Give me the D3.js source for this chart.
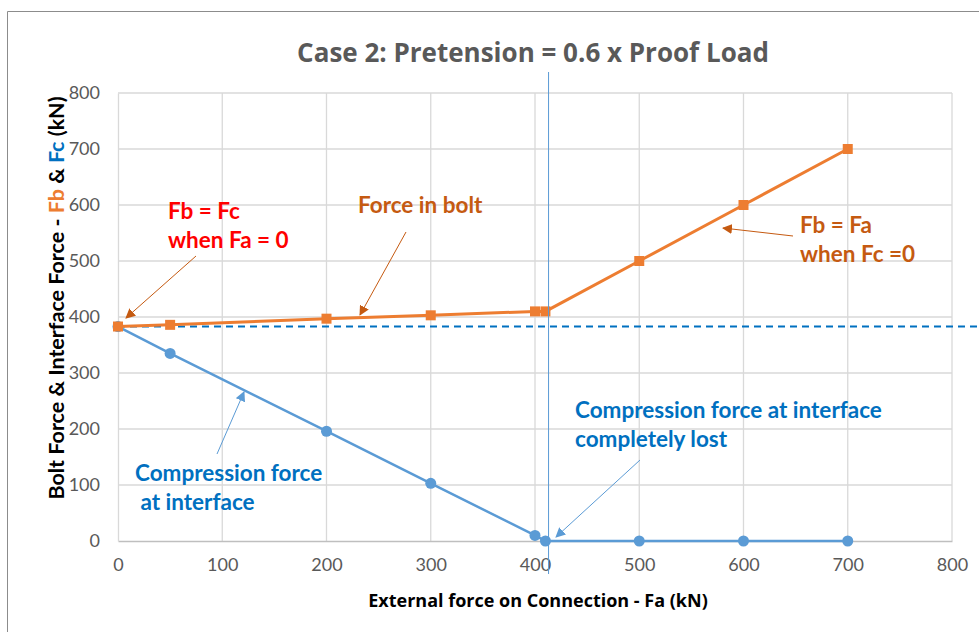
<!DOCTYPE html>
<html>
<head>
<meta charset="utf-8">
<script src="https://cdn.jsdelivr.net/npm/d3@7"></script>
<style>
  body { margin: 0; background: #fff; }
  svg { display: block; }
  .tick text { font-family: Lato, "Open Sans", sans-serif; font-size: 18px; fill: #595959; }
</style>
</head>
<body>
<svg id="chart" width="979" height="632"></svg>
<script>
// Data
const boltX = [0, 50, 200, 300, 400, 410, 500, 600, 700];
const boltY = [383, 386, 397, 403, 410, 410, 500, 600, 700];
const interfaceX = [0, 50, 200, 300, 400, 410, 500, 600, 700];
const interfaceY = [383, 335, 196, 103, 10, 0, 0, 0, 0];
const xTicks = [0, 100, 200, 300, 400, 500, 600, 700, 800];
const yTicks = [0, 100, 200, 300, 400, 500, 600, 700, 800];
const pretension = 383;
const lossPoint = 413;

const svg = d3.select("#chart");
const margin = { left: 118, right: 27, top: 93, bottom: 91 };
const width = 979, height = 632;

const x = d3.scaleLinear().domain([0, 800]).range([margin.left, width - margin.right]);
const y = d3.scaleLinear().domain([0, 800]).range([height - margin.bottom, margin.top]);

// outer frame
svg.append("path")
    .attr("d", `M7.5,${height} V11.5 H${width}`)
    .attr("fill", "none")
    .attr("stroke", "#8c8c8c")
    .attr("stroke-width", 1);

// grid
svg.append("g")
    .selectAll("line.h")
    .data(yTicks.slice(1))
    .join("line")
    .attr("x1", x(0)).attr("x2", x(800))
    .attr("y1", d => y(d)).attr("y2", d => y(d))
    .attr("stroke", "#d9d9d9").attr("stroke-width", 1.3);

svg.append("g")
    .selectAll("line.v")
    .data(xTicks.slice(1))
    .join("line")
    .attr("x1", d => x(d)).attr("x2", d => x(d))
    .attr("y1", y(0)).attr("y2", y(800))
    .attr("stroke", "#d9d9d9").attr("stroke-width", 1.3);

// axes
const xAxis = svg.append("g")
    .attr("transform", `translate(0,${y(0)})`)
    .call(d3.axisBottom(x).tickValues(xTicks).tickSize(0).tickPadding(17));
xAxis.select(".domain").attr("stroke", "#bfbfbf").attr("stroke-width", 1.3);

const yAxis = svg.append("g")
    .attr("transform", `translate(${x(0)},0)`)
    .call(d3.axisLeft(y).tickValues(yTicks).tickSize(0).tickPadding(18));
yAxis.select(".domain").attr("stroke", "#d9d9d9").attr("stroke-width", 1.3);

// title
svg.append("text")
    .attr("x", 533).attr("y", 62)
    .attr("text-anchor", "middle")
    .style("font-family", "'Open Sans', sans-serif")
    .style("font-size", "26px").style("font-weight", "bold")
    .attr("fill", "#595959")
    .text("Case 2: Pretension = 0.6 x Proof Load");

// axis titles
svg.append("text")
    .attr("x", 538).attr("y", 607)
    .attr("text-anchor", "middle")
    .style("font-family", "'Open Sans', sans-serif")
    .style("font-size", "18px").style("font-weight", "bold")
    .attr("fill", "#000")
    .text("External force on Connection - Fa (kN)");

const yTitle = svg.append("text")
    .attr("transform", "translate(64,298) rotate(-90)")
    .attr("text-anchor", "middle")
    .style("font-family", "Lato, sans-serif")
    .style("font-size", "21.5px").style("font-weight", "bold")
    .attr("fill", "#000");
yTitle.append("tspan").text("Bolt Force & Interface Force - ");
yTitle.append("tspan").attr("fill", "#ED7D31").text("Fb");
yTitle.append("tspan").text(" & ");
yTitle.append("tspan").attr("fill", "#0070C0").text("Fc");
yTitle.append("tspan").text(" (kN)");

// pretension dashed line
svg.append("line")
    .attr("x1", x(0)).attr("x2", width)
    .attr("y1", y(pretension)).attr("y2", y(pretension))
    .attr("stroke", "#0070C0").attr("stroke-width", 2)
    .attr("stroke-dasharray", "7,5");

// series
const boltData = boltX.map((d, i) => [d, boltY[i]]);
const interfaceData = interfaceX.map((d, i) => [d, interfaceY[i]]);
const line = d3.line().x(d => x(d[0])).y(d => y(d[1]));

svg.append("path")
    .datum(interfaceData)
    .attr("d", line)
    .attr("fill", "none")
    .attr("stroke", "#5B9BD5").attr("stroke-width", 2.5);

svg.append("g")
    .selectAll("circle")
    .data(interfaceData)
    .join("circle")
    .attr("cx", d => x(d[0])).attr("cy", d => y(d[1]))
    .attr("r", 5.5)
    .attr("fill", "#5B9BD5");

svg.append("path")
    .datum(boltData)
    .attr("d", line)
    .attr("fill", "none")
    .attr("stroke", "#ED7D31").attr("stroke-width", 3);

svg.append("g")
    .selectAll("rect")
    .data(boltData)
    .join("rect")
    .attr("x", d => x(d[0]) - 5).attr("y", d => y(d[1]) - 5)
    .attr("width", 10).attr("height", 10)
    .attr("fill", "#ED7D31");

// loss-of-contact vertical line
svg.append("line")
    .attr("x1", x(lossPoint)).attr("x2", x(lossPoint))
    .attr("y1", 72).attr("y2", 574)
    .attr("stroke", "#5B9BD5").attr("stroke-width", 1);

// annotations
const defs = svg.append("defs");
function marker(id, color) {
    defs.append("marker")
        .attr("id", id)
        .attr("viewBox", "0 0 10 10")
        .attr("refX", 9).attr("refY", 5)
        .attr("markerWidth", 10).attr("markerHeight", 10)
        .attr("markerUnits", "userSpaceOnUse")
        .attr("orient", "auto")
        .append("path")
        .attr("d", "M0,0 L10,5 L0,10 z")
        .attr("fill", color);
}
marker("arrBrown", "#C55A11");
marker("arrBlue", "#5B9BD5");

function arrow(x1, y1, x2, y2, color, id) {
    svg.append("line")
        .attr("x1", x1).attr("y1", y1).attr("x2", x2).attr("y2", y2)
        .attr("stroke", color).attr("stroke-width", 1)
        .attr("marker-end", `url(#${id})`);
}

function label(lines, lx, ly, color) {
    const t = svg.append("text")
        .style("font-family", "Lato, sans-serif")
        .style("font-size", "22.5px").style("font-weight", "bold")
        .attr("fill", color);
    lines.forEach((s, i) => {
        t.append("tspan").attr("x", lx).attr("y", ly + i * 29).attr("xml:space", "preserve").text(s);
    });
}

label(["Fb = Fc", "when Fa = 0"], 168, 219, "#FF0000");
arrow(196, 256, 126, 318, "#C55A11", "arrBrown");

label(["Force in bolt"], 358, 213, "#C55A11");
arrow(406, 232, 360, 315, "#C55A11", "arrBrown");

label(["Fb = Fa", "when Fc =0"], 800, 233, "#C55A11");
arrow(793, 236, 723, 228, "#C55A11", "arrBrown");

label(["Compression force at interface", "completely lost"], 575, 418, "#0070C0");
arrow(640, 460, 556, 537, "#5B9BD5", "arrBlue");

label(["Compression force", " at interface"], 135, 481, "#0070C0");
arrow(217, 454, 244, 392, "#5B9BD5", "arrBlue");
</script>
</body>
</html>
